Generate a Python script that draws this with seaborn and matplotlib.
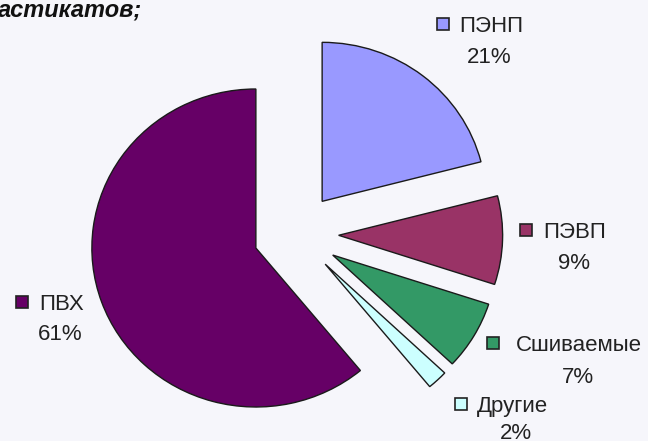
import matplotlib
matplotlib.use("Agg")
from matplotlib import pyplot as plt
import seaborn as sns

# data
categories = ['ПЭНП', 'ПЭВП', 'Сшиваемые', 'Другие', 'ПВХ']
shares = [21, 9, 7, 2, 61]
colors = ['#9999ff', '#993366', '#339966', '#ccffff', '#660066']

# label layout in pixels (name centre, percent centre, key square)
name_px = [(491, 24), (575, 230), (579, 343), (512, 404), (62, 302)]
pct_px = [(489, 55), (574, 261), (578, 375), (516, 431), (60, 332)]
key_px = [(443, 24), (526, 230), (493, 343), (461, 404), (22, 302)]

sns.set_theme(style="white")
plt.rcParams['font.family'] = ['Liberation Sans', 'DejaVu Sans']

W, H = 648, 441
fig = plt.figure(figsize=(W / 100, H / 100), dpi=100)
fig.patch.set_facecolor('#f6f6fb')
ax = fig.add_axes([0, 0, 1, 1])
ax.set_facecolor('#f6f6fb')

ax.pie(shares, colors=colors, startangle=90, counterclock=False,
       explode=[0.26] * len(shares),
       wedgeprops={'edgecolor': '#1a1a1a', 'linewidth': 1.0})
ax.set_aspect('auto')
sx, sy = 164, 159
cx, cy = 296, 234
ax.set_xlim(-cx / sx, (W - cx) / sx)
ax.set_ylim(-(H - cy) / sy, cy / sy)
ax.axis('off')


def fpos(p):
    return p[0] / W, 1 - p[1] / H


for name, val, col, npos, ppos, kpos in zip(categories, shares, colors, name_px, pct_px, key_px):
    fig.text(*fpos(npos), name, ha='center', va='center_baseline', fontsize=16, color='#222222')
    fig.text(*fpos(ppos), f'{val}%', ha='center', va='center_baseline', fontsize=16, color='#222222')
    kx, ky = fpos(kpos)
    fig.add_artist(plt.Line2D([kx], [ky], marker='s', markersize=8.6, color=col,
                              markeredgecolor='#222222', markeredgewidth=1.2, linestyle='None'))

fig.text(-2 / W, 1 - 17 / H, 'астикатов;', ha='left', va='baseline', fontsize=17,
         style='italic', weight='bold', color='#111111')

plt.savefig('out.png', dpi=100, facecolor=fig.get_facecolor())
